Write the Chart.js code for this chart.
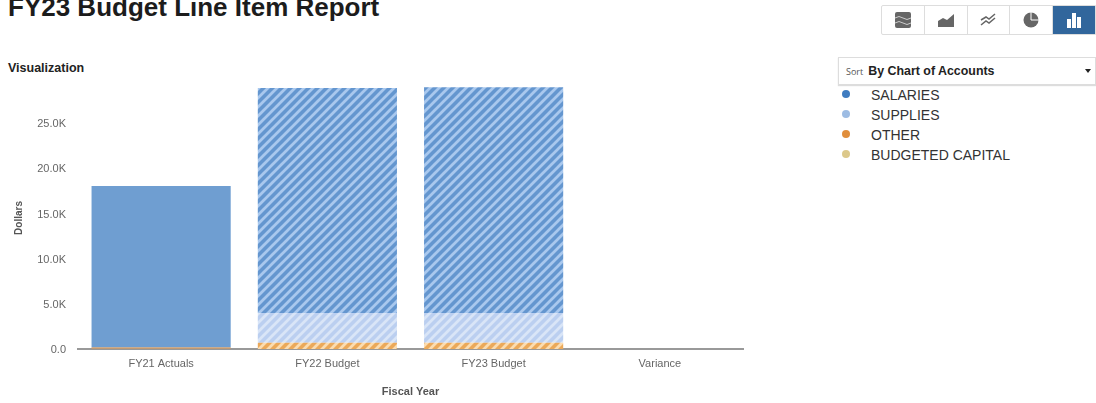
<!DOCTYPE html>
<html>
<head>
<meta charset="utf-8">
<title>FY23 Budget Line Item Report</title>
<script src="https://cdn.jsdelivr.net/npm/chart.js@4"></script>
<style>
  html, body { margin: 0; padding: 0; background: #fff; overflow: hidden; }
  body { width: 1096px; height: 403px; position: relative; font-family: "Liberation Sans", Arial, sans-serif; }
  h1 { position: absolute; left: 8px; top: -8px; margin: 0; font-size: 26px; line-height: 30px; font-weight: bold; color: #1c1c1c; white-space: nowrap; }
  h2 { position: absolute; left: 8px; top: 60px; margin: 0; font-size: 12.5px; line-height: 16px; font-weight: bold; color: #222; }
  #grafico { position: absolute; left: 0; top: 50px; }
  #botones { position: absolute; left: 881px; top: 5px; width: 215px; height: 30px; display: flex; box-sizing: border-box; border: 1px solid #ddd; border-radius: 2px 0 0 2px; }
  #botones div { flex: 1; border-right: 1px solid #ddd; display: flex; align-items: center; justify-content: center; }
  #botones div:last-child { background: #31669c; border-right: 0; }
  #orden { position: absolute; left: 838px; top: 57px; width: 258px; height: 28px; box-sizing: border-box; border: 1px solid #ddd; box-shadow: 0 1px 1px #ddd; font-size: 12.4px; font-weight: bold; color: #222; line-height: 26px; padding-left: 7px; }
  #orden small { font-family: "Open Sans", sans-serif; font-size: 9px; font-weight: normal; color: #555; margin-right: 5px; }
  #orden i { position: absolute; right: 4px; top: 11px; border: 3px solid transparent; border-top: 4px solid #222; border-bottom: 0; }
  #leyenda { position: absolute; left: 841px; top: 85px; font-size: 14px; color: #333; }
  #leyenda div { height: 20px; line-height: 21px; position: relative; padding-left: 30px; white-space: nowrap; }
  #leyenda span { position: absolute; left: 1px; top: 5px; width: 8px; height: 8px; border-radius: 50%; }
</style>
</head>
<body>
<h1>FY23 Budget Line Item Report</h1>
<h2>Visualization</h2>
<div id="botones">
  <div><svg width="16" height="16"><rect width="16" height="16" rx="2" fill="#666"/><path d="M0 6q4-3 8 0t8 0M0 11q4-3 8 0t8 0" stroke="#ccc" fill="none"/></svg></div>
  <div><svg width="16" height="14"><path d="M0 14V8l5-3 4 2 7-6v13z" fill="#666"/></svg></div>
  <div><svg width="16" height="14"><path d="M1 7l5-3 3 2 6-5M1 12l5-4 3 2 6-5" stroke="#666" fill="none" stroke-width="1.5"/></svg></div>
  <div><svg width="16" height="16"><circle cx="8" cy="8" r="7.5" fill="#666"/><path d="M8 0v8h8" stroke="#fff" fill="none"/></svg></div>
  <div><svg width="16" height="16"><path d="M1 7h4v9H1zM6 1h4v15H6zM11 5h4v11h-4z" fill="#fff"/></svg></div>
</div>
<div id="orden"><small>Sort</small>By Chart of Accounts<i></i></div>
<div id="leyenda"></div>
<canvas id="grafico" width="760" height="353"></canvas>
<script>
// valores
const categorias = ['FY21 Actuals', 'FY22 Budget', 'FY23 Budget', 'Variance'];
const salaries = [17830, 24900, 25000, 0];
const supplies = [0, 3300, 3300, 0];
const other = [200, 680, 680, 0];
const capital = [0, 0, 0, 0];
const marcasY = [0, 5000, 10000, 15000, 20000, 25000];
const nombres = ['SALARIES', 'SUPPLIES', 'OTHER', 'BUDGETED CAPITAL'];
const coloresLeyenda = ['#3f7cc0', '#9dbce3', '#e08e3c', '#dcc88a'];

// rayas diagonales para los presupuestos
function rayas(fondo, raya) {
  const c = document.createElement('canvas');
  c.width = 9;
  c.height = 9;
  const g = c.getContext('2d');
  g.fillStyle = fondo;
  g.fillRect(0, 0, 9, 9);
  g.strokeStyle = raya;
  g.lineWidth = 2.8;
  g.beginPath();
  g.moveTo(-2, 2); g.lineTo(2, -2);
  g.moveTo(-2, 11); g.lineTo(11, -2);
  g.moveTo(7, 11); g.lineTo(11, 7);
  g.stroke();
  return g.createPattern(c, 'repeat');
}

const rayaSalaries = rayas('#6496cf', '#a9c8ee');
const raySupplies = rayas('#bbcff0', '#d9e5f7');
const rayaOther = rayas('#eba95a', '#fbdcb0');

function pintar(solido, patron) {
  return [solido, patron, patron, solido];
}

document.getElementById('leyenda').innerHTML = nombres
  .map((n, i) => `<div><span style="background:${coloresLeyenda[i]}"></span>${n}</div>`)
  .join('');

new Chart(document.getElementById('grafico').getContext('2d'), {
  type: 'bar',
  data: {
    labels: categorias,
    datasets: [
      { label: nombres[2], data: other, backgroundColor: pintar('#c29a72', rayaOther) },
      { label: nombres[3], data: capital, backgroundColor: pintar('#dcc88a', '#dcc88a') },
      { label: nombres[1], data: supplies, backgroundColor: pintar('#bdd0f0', raySupplies) },
      { label: nombres[0], data: salaries, backgroundColor: pintar('#6f9ed1', rayaSalaries) },
    ],
  },
  options: {
    responsive: false,
    animation: false,
    layout: { padding: { top: 37, right: 17 } },
    plugins: { legend: { display: false }, tooltip: { enabled: false } },
    datasets: { bar: { barPercentage: 1, categoryPercentage: 0.837 } },
    scales: {
      x: {
        stacked: true,
        afterFit: (s) => { s.height = 54; },
        grid: { display: false },
        border: { color: '#999', width: 2 },
        ticks: { color: '#666', font: { family: 'Liberation Sans', size: 11 }, padding: 0, maxRotation: 0 },
        title: { display: true, text: 'Fiscal Year', color: '#555', font: { family: 'Liberation Sans', size: 11, weight: 'bold' }, padding: { top: 12 } },
      },
      y: {
        stacked: true,
        min: 0,
        max: 29000,
        afterFit: (s) => { s.width = 78; },
        afterBuildTicks: (s) => { s.ticks = marcasY.map((v) => ({ value: v })); },
        grid: { display: false, drawTicks: false },
        border: { display: false },
        ticks: {
          color: '#666',
          font: { family: 'Liberation Sans', size: 11 },
          padding: 12,
          labelOffset: 1,
          callback: (v) => (v === 0 ? '0.0' : (v / 1000).toFixed(1) + 'K'),
        },
        title: { display: true, text: 'Dollars', color: '#555', font: { family: 'Liberation Sans', size: 10, weight: 'bold' }, padding: { top: 13 } },
      },
    },
  },
});
</script>
</body>
</html>
